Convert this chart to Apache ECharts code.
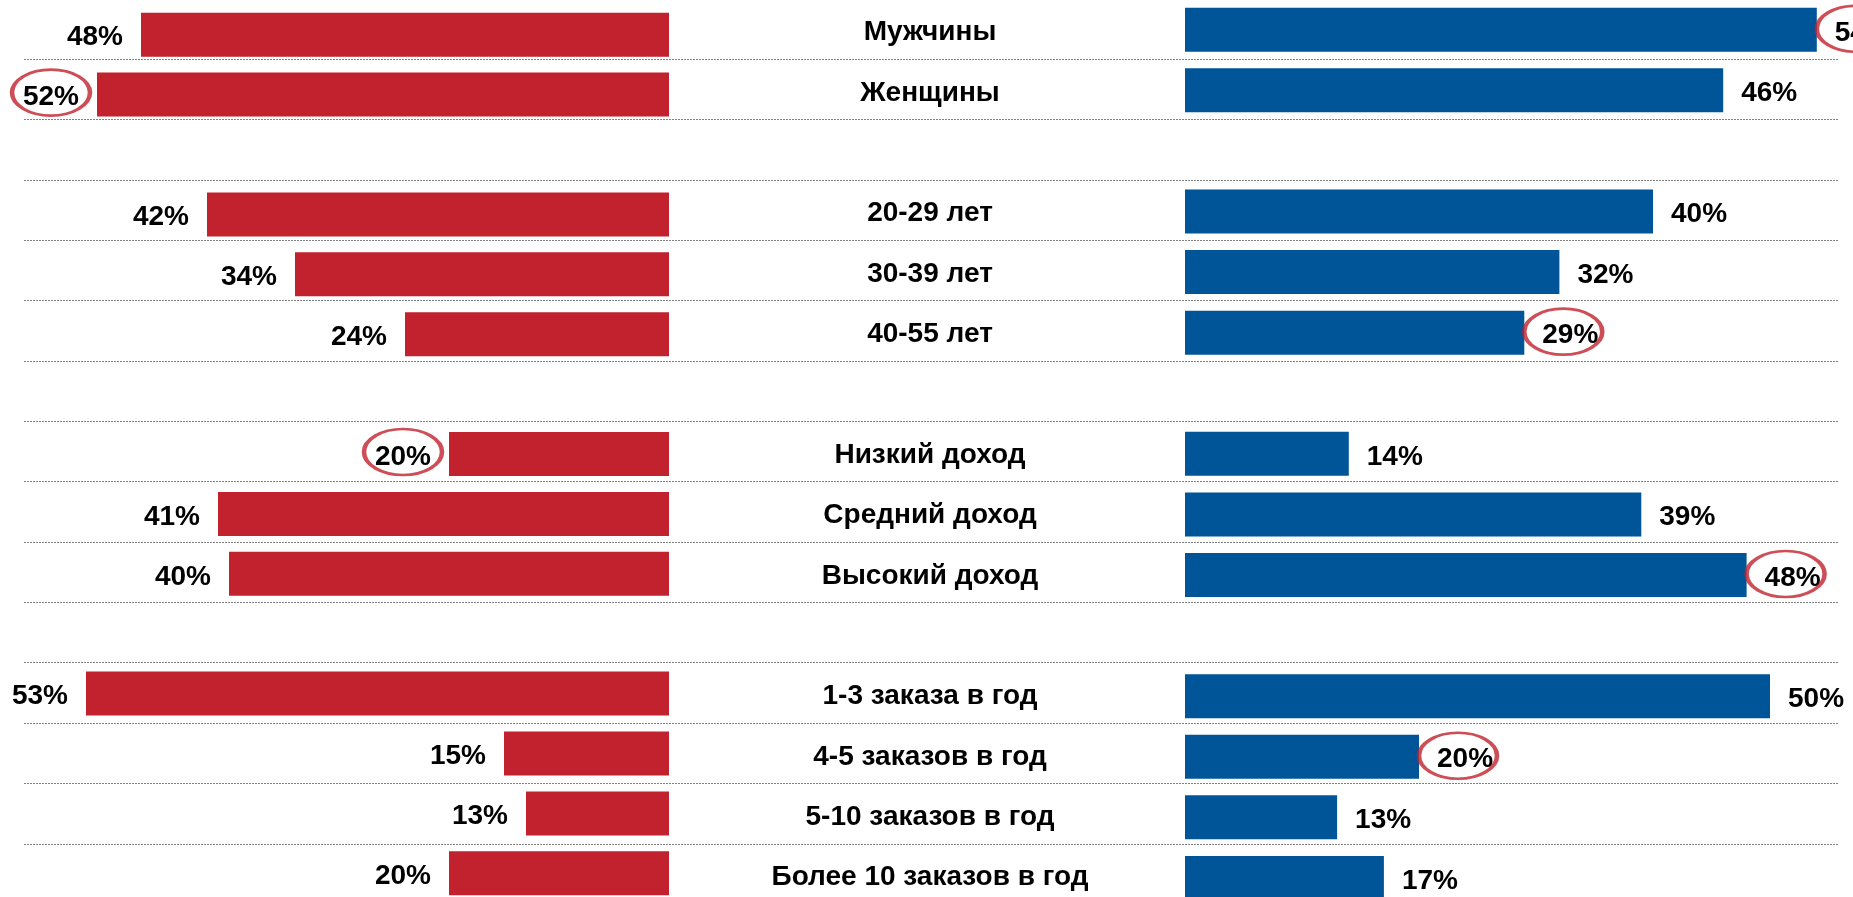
<!DOCTYPE html>
<html>
<head>
<meta charset="utf-8">
<title>chart</title>
<style>
  html, body { margin: 0; padding: 0; background: #fff; }
  #chart { width: 1853px; height: 897px; }
</style>
<script src="https://cdn.jsdelivr.net/npm/echarts@6/dist/echarts.min.js"></script>
</head>
<body>
<div id="chart"></div>
<script>
// категории (пустые строки - промежутки между группами)
let categories = ['Мужчины', 'Женщины', ' ',
  '20-29 лет', '30-39 лет', '40-55 лет', '  ',
  'Низкий доход', 'Средний доход', 'Высокий доход', '   ',
  '1-3 заказа в год', '4-5 заказов в год', '5-10 заказов в год', 'Более 10 заказов в год']

// левая колонка (красная)
let leftValues = [48, 52, null, 42, 34, 24, null, 20, 41, 40, null, 53, 15, 13, 20]
// правая колонка (синяя)
let rightValues = [54, 46, null, 40, 32, 29, null, 14, 39, 48, null, 50, 20, 13, 17]

// обведённые значения
let leftMarked = ['Женщины', 'Низкий доход']
let rightMarked = ['Мужчины', '40-55 лет', 'Высокий доход', '4-5 заказов в год']

let RED = '#c1222d'
let BLUE = '#005598'
let FONT = "'Liberation Sans', Arial, sans-serif"

// точки для эллипсов
let getMarks = function (names, values) {
  let arr = []
  names.forEach(name => {
    let i = categories.indexOf(name)
    if (i >= 0) arr.push([values[i], i])
  })
  return arr
}

let labelStyle = {
  show: true,
  formatter: '{c}%',
  distance: 18,
  offset: [0, 3],
  color: '#000',
  fontSize: 28,
  fontWeight: 'bold',
  fontFamily: FONT
}

let ringStyle = {
  color: 'rgba(0,0,0,0)',
  borderColor: '#c1222d',
  borderWidth: 3.5
}

let chartOption = {
  animation: false,
  backgroundColor: '#fff',
  grid: [
    // красные бары
    {left: 9, width: 660, top: 4.75, height: 898.5, outerBoundsMode: 'none'},
    // синие бары
    {left: 1185, width: 643.5, top: -0.5, height: 908.7, outerBoundsMode: 'none'},
    // пунктирные линии
    {left: 24, right: 15, top: -1.26, height: 905.4, outerBoundsMode: 'none'},
    // подписи по центру
    {left: 24, right: 15, top: 2.5, height: 905.4, outerBoundsMode: 'none'}
  ],
  xAxis: [
    {gridIndex: 0, type: 'value', min: 0, max: 60, inverse: true, show: false},
    {gridIndex: 1, type: 'value', min: 0, max: 55, show: false},
    {gridIndex: 2, type: 'value', min: 0, max: 1, show: false},
    {gridIndex: 3, type: 'value', min: 0, max: 1, show: false}
  ],
  yAxis: [
    {gridIndex: 0, type: 'category', data: categories, inverse: true, show: false},
    {gridIndex: 1, type: 'category', data: categories, inverse: true, show: false},
    {
      gridIndex: 2,
      type: 'category',
      data: categories,
      inverse: true,
      axisLine: {show: false},
      axisTick: {show: false},
      axisLabel: {show: false},
      splitLine: {
        show: true,
        showMinLine: false,
        lineStyle: {color: '#808080', width: 1, type: [2, 1]}
      }
    },
    {
      gridIndex: 3,
      type: 'category',
      data: categories,
      inverse: true,
      axisLine: {show: false},
      axisTick: {show: false},
      splitLine: {show: false},
      axisLabel: {
        inside: true,
        interval: 0,
        margin: 906,
        align: 'center',
        color: '#000',
        fontSize: 28,
        fontWeight: 'bold',
        fontFamily: FONT
      }
    }
  ],
  series: [
    {
      type: 'bar',
      xAxisIndex: 0,
      yAxisIndex: 0,
      data: leftValues,
      barWidth: 44,
      itemStyle: {color: RED},
      label: Object.assign({position: 'left'}, labelStyle)
    },
    {
      type: 'bar',
      xAxisIndex: 1,
      yAxisIndex: 1,
      data: rightValues,
      barWidth: 44,
      itemStyle: {color: BLUE},
      label: Object.assign({position: 'right'}, labelStyle)
    },
    {
      type: 'scatter',
      xAxisIndex: 0,
      yAxisIndex: 0,
      data: getMarks(leftMarked, leftValues),
      symbol: 'circle',
      symbolSize: [78, 46],
      symbolOffset: [-46, -2],
      clip: false,
      silent: true,
      z: 5,
      itemStyle: ringStyle
    },
    {
      type: 'scatter',
      xAxisIndex: 1,
      yAxisIndex: 1,
      data: getMarks(rightMarked, rightValues),
      symbol: 'circle',
      symbolSize: [78, 46],
      symbolOffset: [39, -1],
      clip: false,
      silent: true,
      z: 5,
      itemStyle: ringStyle
    }
  ]
}

let el = document.querySelector('#chart')
let chartInstance = echarts.init(el)
chartInstance.setOption(chartOption)
</script>
</body>
</html>
